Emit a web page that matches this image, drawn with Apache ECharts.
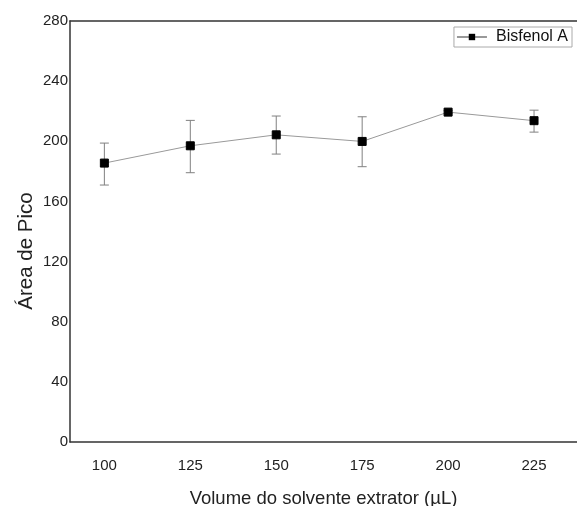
<!DOCTYPE html>
<html>
<head>
<meta charset="utf-8">
<script src="https://cdn.jsdelivr.net/npm/echarts@6/dist/echarts.min.js"></script>
<style>
  html, body { margin: 0; padding: 0; background: #fff; }
  #chart { width: 577px; height: 506px; }
</style>
</head>
<body>
<div id="chart"></div>
<script>
const volumes = [100, 125, 150, 175, 200, 225]
const areas = [185.5, 197.0, 204.3, 199.9, 219.4, 213.7]
const errLow = [170.9, 179.1, 191.5, 183.1, 218.4, 206.1]
const errHigh = [198.8, 213.9, 216.8, 216.3, 220.4, 220.7]
const xTicks = [100, 125, 150, 175, 200, 225]

const font = 'Arial, "Liberation Sans", sans-serif'

const chart = echarts.init(document.getElementById('chart'))

const errorData = volumes.map((v, i) => [v, errLow[i], errHigh[i]])

chart.setOption({
  animation: false,
  grid: { left: 70, right: 0, top: 21, bottom: 64, outerBoundsMode: 'none', containLabel: false },
  legend: {
    data: ['Bisfenol A'],
    right: 5,
    top: 27,
    itemWidth: 30,
    itemHeight: 8,
    itemGap: 4,
    padding: [2, 4, 2, 2],
    borderColor: '#aaa',
    borderWidth: 1,
    textStyle: { fontFamily: font, fontSize: 16, color: '#111', padding: [0, 0, 0, 4] }
  },
  xAxis: [{
    type: 'value',
    min: 90,
    max: 237.5,
    axisLine: { lineStyle: { color: '#333', width: 1.5 } },
    axisTick: { show: false },
    splitLine: { show: false },
    axisLabel: {
      customValues: xTicks,
      margin: 16,
      fontFamily: font,
      fontSize: 15,
      color: '#222'
    },
    name: 'Volume do solvente extrator (µL)',
    nameLocation: 'middle',
    nameGap: 47,
    nameTextStyle: { fontFamily: font, fontSize: 18.5, color: '#222' }
  }, {
    type: 'value',
    position: 'top',
    min: 90,
    max: 237.5,
    axisLine: { show: true, lineStyle: { color: '#333', width: 1.5 } },
    axisTick: { show: false },
    axisLabel: { show: false },
    splitLine: { show: false }
  }],
  yAxis: {
    type: 'value',
    min: 0,
    max: 280,
    interval: 40,
    axisLine: { show: true, lineStyle: { color: '#333', width: 1.5 } },
    axisTick: { show: false },
    splitLine: { show: false },
    axisLabel: { margin: 2, fontFamily: font, fontSize: 15, color: '#222' }
  },
  graphic: [{
    type: 'text',
    x: 26,
    y: 251,
    rotation: Math.PI / 2,
    style: {
      text: 'Área de Pico',
      font: '20.5px ' + font,
      fill: '#222',
      align: 'center',
      verticalAlign: 'middle'
    }
  }],
  series: [{
    type: 'custom',
    name: 'err',
    data: errorData,
    z: 2,
    renderItem: (params, api) => {
      const x = api.value(0)
      const lo = api.coord([x, api.value(1)])
      const hi = api.coord([x, api.value(2)])
      const w = 4.5
      const style = { stroke: '#808080', lineWidth: 1 }
      return {
        type: 'group',
        children: [
          { type: 'line', shape: { x1: lo[0], y1: lo[1], x2: hi[0], y2: hi[1] }, style },
          { type: 'line', shape: { x1: lo[0] - w, y1: lo[1], x2: lo[0] + w, y2: lo[1] }, style },
          { type: 'line', shape: { x1: hi[0] - w, y1: hi[1], x2: hi[0] + w, y2: hi[1] }, style }
        ]
      }
    }
  }, {
    type: 'line',
    name: 'Bisfenol A',
    data: volumes.map((v, i) => [v, areas[i]]),
    symbol: 'rect',
    symbolSize: 8,
    z: 3,
    lineStyle: { color: '#999', width: 1 },
    itemStyle: { color: '#000', borderColor: '#000' }
  }]
})
</script>
</body>
</html>
